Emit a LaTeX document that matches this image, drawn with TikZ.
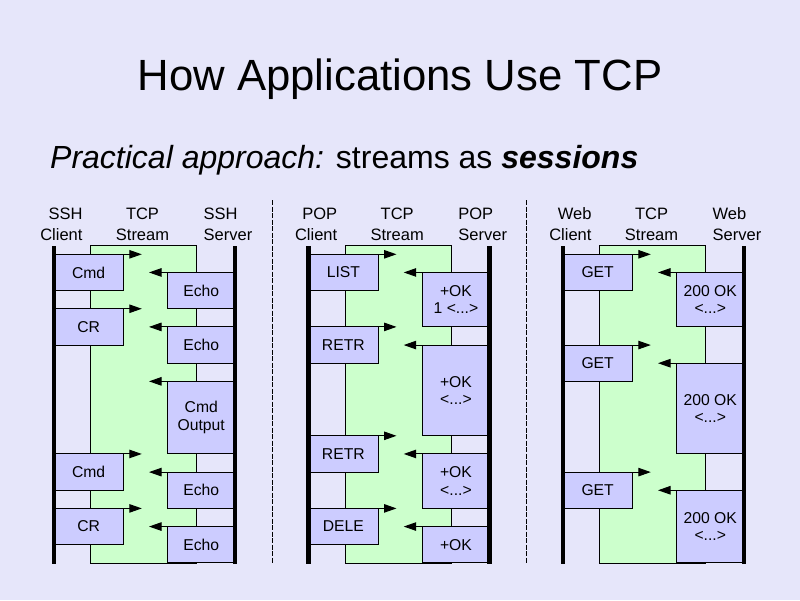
\documentclass[tikz,border=0pt]{standalone}
\usepackage{fontspec}
\setmainfont{Liberation Sans}
\usetikzlibrary{arrows.meta}

\definecolor{slidebg}{RGB}{230,230,250}
\definecolor{msgfill}{RGB}{204,204,255}
\definecolor{streamfill}{RGB}{204,255,204}

\tikzset{
  msgbox/.style={draw=black, line width=1pt, fill=msgfill, inner sep=0pt, outer sep=0pt,
    align=center, font=\fontsize{15.7}{17.5}\selectfont},
  msgarrow/.style={line width=1pt, -{Triangle[length=12.5pt,width=8.5pt]}},
  streambox/.style={draw=black, line width=1pt, fill=streamfill, inner sep=0pt, outer sep=0pt},
  lifeline/.style={line width=4.6pt},
  divider/.style={line width=1pt, dash pattern=on 5pt off 1.5pt},
  colhead/.style={font=\fontsize{16.5}{19}\selectfont, inner sep=0pt},
}

% message sent by the client: box on the client lifeline, arrow into the stream
\newcommand\clientmsg[5]{%
  \pgfmathsetmacro\ytop{254.3+18.15*(#3)}%
  \pgfmathsetmacro\hgt{18.15*((#4)-(#3))}%
  \node[msgbox, anchor=north west, minimum width=69.3pt, minimum height=\hgt pt] (#1) at (#2,\ytop) {#5};
  \coordinate (#1-tip) at ({#2+87.8},\ytop);
  \draw[msgarrow] (#1.north west) -- (#1-tip);
}
% message sent by the server: box on the server lifeline, arrow into the stream
\newcommand\servermsg[5]{%
  \pgfmathsetmacro\ytop{254.3+18.15*(#3)}%
  \pgfmathsetmacro\hgt{18.15*((#4)-(#3))}%
  \node[msgbox, anchor=north east, minimum width=67.5pt, minimum height=\hgt pt] (#1) at ({#2+181},\ytop) {#5};
  \coordinate (#1-tip) at ({#2+95},\ytop);
  \draw[msgarrow] (#1.north east) -- (#1-tip);
}
% column headings and the TCP stream band of one panel
\newcommand\panelframe[4]{%
  \node[colhead, anchor=base east] (#2-c1) at ({#1+28.7},219) {#3};
  \node[colhead, anchor=base east] (#2-c2) at ({#1+28.7},240) {Client};
  \node[colhead, anchor=base] (#2-s1) at ({#1+88.5},219) {TCP};
  \node[colhead, anchor=base] (#2-s2) at ({#1+88.5},240) {Stream};
  \node[colhead, anchor=base west] (#2-v1) at ({#1+149.5},219) {#4};
  \node[colhead, anchor=base west] (#2-v2) at ({#1+149.5},240) {Server};
  \node[streambox, anchor=north west, minimum width=105.6pt, minimum height=318pt] (#2-stream) at ({#1+36.8},245) {};
}
% client and server lifelines of one panel
\newcommand\lifelines[2]{%
  \coordinate (#2-ctop) at (#1,246);
  \coordinate (#2-cbot) at (#1,563.5);
  \coordinate (#2-vtop) at ({#1+181},246);
  \coordinate (#2-vbot) at ({#1+181},563.5);
  \draw[lifeline] (#2-ctop) -- (#2-cbot);
  \draw[lifeline] (#2-vtop) -- (#2-vbot);
}

\begin{document}
\begin{tikzpicture}[x=1pt, y=-1pt]
  \fill[slidebg] (0,0) rectangle (800,600);
  \useasboundingbox (0,0) rectangle (800,600);

  \node[anchor=base, inner sep=0pt, font=\fontsize{43.7}{50}\selectfont] (title) at (400,90)
    {How Applications Use TCP};
  \node[anchor=base west, inner sep=0pt, font=\fontsize{32}{36}\selectfont] (subtitle) at (50,168)
    {\textit{Practical approach:} streams as \textbf{\textit{sessions}}};

  % dividers between the three panels
  \coordinate (d1top) at (272.3,200);
  \coordinate (d1bot) at (272.3,563.5);
  \coordinate (d2top) at (526.8,200);
  \coordinate (d2bot) at (526.8,563.5);
  \draw[divider] (d1top) -- (d1bot);
  \draw[divider] (d2top) -- (d2bot);

  % SSH
  \panelframe{54}{ssh}{SSH}{SSH}
  \clientmsg{ssha}{54}{0}{2}{Cmd}
  \servermsg{sshb}{54}{1}{3}{Echo}
  \clientmsg{sshc}{54}{3}{5}{CR}
  \servermsg{sshd}{54}{4}{6}{Echo}
  \servermsg{sshe}{54}{7}{11}{Cmd\\Output}
  \clientmsg{sshf}{54}{11}{13}{Cmd}
  \servermsg{sshg}{54}{12}{14}{Echo}
  \clientmsg{sshh}{54}{14}{16}{CR}
  \servermsg{sshi}{54}{15}{17}{Echo}
  \lifelines{54}{ssh}

  % POP
  \panelframe{308.7}{pop}{POP}{POP}
  \clientmsg{popa}{308.7}{0}{2}{LIST}
  \servermsg{popb}{308.7}{1}{4}{+OK\\1 <...>}
  \clientmsg{popc}{308.7}{4}{6}{RETR}
  \servermsg{popd}{308.7}{5}{10}{+OK\\<...>}
  \clientmsg{pope}{308.7}{10}{12}{RETR}
  \servermsg{popf}{308.7}{11}{14}{+OK\\<...>}
  \clientmsg{popg}{308.7}{14}{16}{DELE}
  \servermsg{poph}{308.7}{15}{17}{+OK}
  \lifelines{308.7}{pop}

  % Web
  \panelframe{563}{web}{Web}{Web}
  \clientmsg{weba}{563}{0}{2}{GET}
  \servermsg{webb}{563}{1}{4}{200 OK\\<...>}
  \clientmsg{webc}{563}{5}{7}{GET}
  \servermsg{webd}{563}{6}{11}{200 OK\\<...>}
  \clientmsg{webe}{563}{12}{14}{GET}
  \servermsg{webf}{563}{13}{17}{200 OK\\<...>}
  \lifelines{563}{web}
\end{tikzpicture}
\end{document}
